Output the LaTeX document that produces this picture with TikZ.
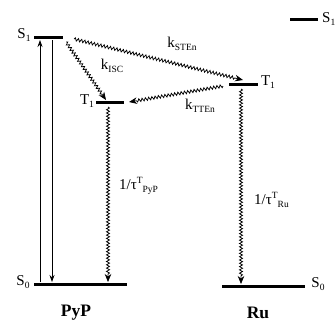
\documentclass[tikz,border=0pt]{standalone}
\usepackage{fontspec}
\setmainfont{Liberation Serif}
\usetikzlibrary{decorations.pathmorphing,arrows.meta}
\newcommand\lsub[1]{\raisebox{-0.4ex}{\fontsize{9.5}{9.5}\selectfont #1}}
\newcommand\lsup[1]{\raisebox{0.9ex}{\fontsize{9.5}{9.5}\selectfont #1}}
\begin{document}
\begin{tikzpicture}[x=1pt,y=-1pt,
  level/.style={line width=3pt},
  lab/.style={font=\fontsize{15}{15}\selectfont, inner sep=0pt},
  title/.style={font=\fontsize{17.5}{17.5}\selectfont\bfseries, inner sep=0pt},
  wavy/.style={line width=0.75pt, decorate, decoration={snake, amplitude=1.5pt, segment length=3.3pt, post length=7pt},
     -{Stealth[length=8pt,width=6.5pt]}},
  straight/.style={line width=0.8pt, -{Stealth[length=7pt,width=5pt]}}]
\useasboundingbox (0,0) rectangle (336,322);
% levels
\coordinate (pS1l) at (34,37); \coordinate (pS1r) at (63,37);
\coordinate (pT1l) at (96,102); \coordinate (pT1r) at (124,102);
\coordinate (pS0l) at (34,284); \coordinate (pS0r) at (127,284);
\coordinate (rS1l) at (290,19); \coordinate (rS1r) at (318,19);
\coordinate (rT1l) at (229,84); \coordinate (rT1r) at (258,84);
\coordinate (rS0l) at (222,286); \coordinate (rS0r) at (305,286);
\draw[level] (pS1l) -- (pS1r);
\draw[level] (pT1l) -- (pT1r);
\draw[level] (pS0l) -- (pS0r);
\draw[level] (rS1l) -- (rS1r);
\draw[level] (rT1l) -- (rT1r);
\draw[level] (rS0l) -- (rS0r);
% labels
\node[lab] (lpS1) at (24,35) {S\lsub{1}};
\node[lab] (lpT1) at (87,101) {T\lsub{1}};
\node[lab] (lpS0) at (23,282) {S\lsub{0}};
\node[lab, anchor=west] (lrS1) at (322,19) {S\lsub{1}};
\node[lab] (lrT1) at (268,82) {T\lsub{1}};
\node[lab] (lrS0) at (318,284) {S\lsub{0}};
\node[title] (tp) at (76,313) {PyP};
\node[title] (tr) at (258,313) {Ru};
% straight arrows
\coordinate (a1b) at (40,282); \coordinate (a1t) at (40,40);
\coordinate (a2t) at (52,40); \coordinate (a2b) at (52,282);
\draw[straight] (a1b) -- (a1t);
\draw[straight] (a2t) -- (a2b);
% wavy transitions
\coordinate (isc0) at (66,42); \coordinate (isc1) at (106,100);
\draw[wavy] (isc0) -- (isc1);
\node[lab] (kisc) at (112,66) {k\lsub{ISC}};
\coordinate (ste0) at (74,39); \coordinate (ste1) at (243,80);
\draw[wavy] (ste0) -- (ste1);
\node[lab] (kste) at (182,44) {k\lsub{STEn}};
\coordinate (tte0) at (223,86); \coordinate (tte1) at (129,102);
\draw[wavy] (tte0) -- (tte1);
\node[lab] (ktte) at (200,106) {k\lsub{TTEn}};
\coordinate (pd0) at (108,107); \coordinate (pd1) at (108,282);
\draw[wavy] (pd0) -- (pd1);
\node[lab, anchor=west] (tpl) at (119,186) {1/τ\lsup{T}\lsub{PyP}};
\coordinate (rd0) at (241,89); \coordinate (rd1) at (241,284);
\draw[wavy] (rd0) -- (rd1);
\node[lab, anchor=west] (trl) at (254,200) {1/τ\lsup{T}\lsub{Ru}};
\end{tikzpicture}
\end{document}
